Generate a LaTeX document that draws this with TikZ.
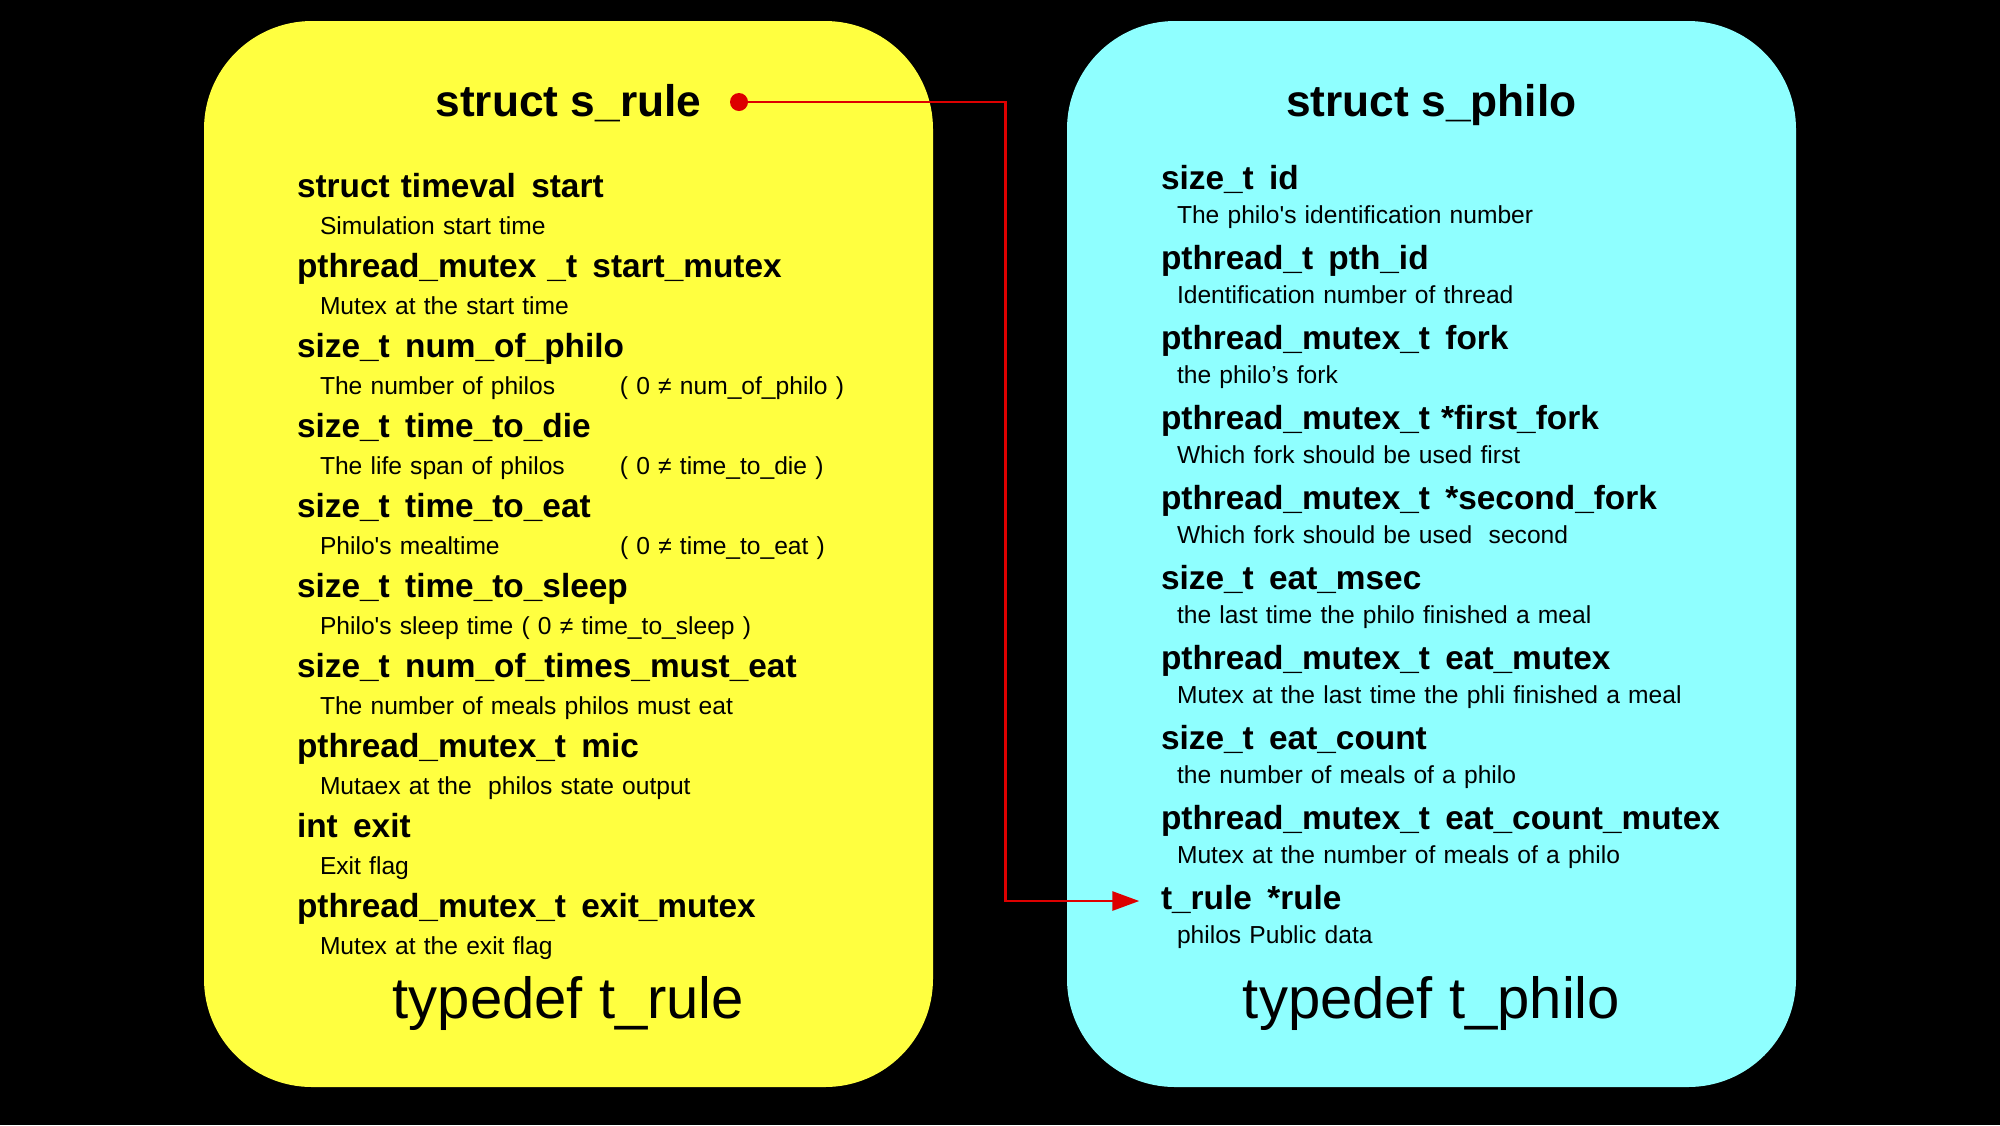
\documentclass[tikz,border=0pt]{standalone}
\usepackage{fontspec}
\setmainfont{Liberation Sans}
\usetikzlibrary{arrows.meta}

\definecolor{rulefill}{RGB}{255, 255, 64}
\definecolor{philofill}{RGB}{143, 255, 255}
\definecolor{linkred}{RGB}{221, 0, 0}

\newcommand{\gap}{\hspace{0.46em}}

\begin{document}
\begin{tikzpicture}[
node distance=0.8cm,
structbox/.style={rectangle, rounded corners=1.08cm, minimum width=7.29cm, minimum height=10.66cm, inner sep=0pt},
structname/.style={anchor=base, font=\fontsize{12.6}{15}\selectfont\bfseries},
typename/.style={anchor=base, font=\fontsize{16.5}{20}\selectfont},
field/.style={text width=6cm, align=left, inner sep=0pt, text height=0.25cm, text depth=0.08cm, font=\fontsize{9.5}{11}\selectfont\bfseries},
note/.style={text width=6cm, align=left, inner sep=0pt, text height=0.18cm, text depth=0.06cm, font=\fontsize{7}{8.5}\selectfont},
refdot/.style={circle, fill=linkred, inner sep=0pt, minimum size=0.18cm},
link/.style={-{Triangle[length=0.27cm, width=0.19cm]}, draw=linkred, line width=0.8pt}
]

% Background
\fill [black] (0,0) rectangle (20,-11.25);

% Struct boxes
\node (rulebox) [structbox, fill=rulefill] at (5.685,-5.54) {};
\node (philobox) [structbox, fill=philofill] at (14.315,-5.54) {};

\node (rulename) [structname] at ([yshift=-0.96cm]rulebox.north) {struct s\_rule};
\node (philoname) [structname] at ([yshift=-0.96cm]philobox.north) {struct s\_philo};
\node (ruletype) [typename] at ([yshift=0.69cm]rulebox.south) {typedef t\_rule};
\node (philotype) [typename] at ([yshift=0.69cm]philobox.south) {typedef t\_philo};

% s_rule fields
\node (lf1) [field] at (5.97,-1.89) {struct timeval\gap start};
\node (lf2) [field, below of=lf1] {pthread\_mutex \_t\gap start\_mutex};
\node (lf3) [field, below of=lf2] {size\_t\gap num\_of\_philo};
\node (lf4) [field, below of=lf3] {size\_t\gap time\_to\_die};
\node (lf5) [field, below of=lf4] {size\_t\gap time\_to\_eat};
\node (lf6) [field, below of=lf5] {size\_t\gap time\_to\_sleep};
\node (lf7) [field, below of=lf6] {size\_t\gap num\_of\_times\_must\_eat};
\node (lf8) [field, below of=lf7] {pthread\_mutex\_t\gap mic};
\node (lf9) [field, below of=lf8] {int\gap exit};
\node (lf10) [field, below of=lf9] {pthread\_mutex\_t\gap exit\_mutex};

\node (ln1) [note, below of=lf1, yshift=0.41cm, xshift=0.23cm] {Simulation start time};
\node (ln2) [note, below of=lf2, yshift=0.41cm, xshift=0.23cm] {Mutex at the start time};
\node (ln3) [note, below of=lf3, yshift=0.41cm, xshift=0.23cm] {\makebox[3cm][l]{The number of philos}( 0 ≠ num\_of\_philo )};
\node (ln4) [note, below of=lf4, yshift=0.41cm, xshift=0.23cm] {\makebox[3cm][l]{The life span of philos}( 0 ≠ time\_to\_die )};
\node (ln5) [note, below of=lf5, yshift=0.41cm, xshift=0.23cm] {\makebox[3cm][l]{Philo\textquotesingle s mealtime}( 0 ≠ time\_to\_eat )};
\node (ln6) [note, below of=lf6, yshift=0.41cm, xshift=0.23cm] {Philo\textquotesingle s sleep time ( 0 ≠ time\_to\_sleep )};
\node (ln7) [note, below of=lf7, yshift=0.41cm, xshift=0.23cm] {The number of meals philos must eat};
\node (ln8) [note, below of=lf8, yshift=0.41cm, xshift=0.23cm] {Mutaex at the\ \ philos state output};
\node (ln9) [note, below of=lf9, yshift=0.41cm, xshift=0.23cm] {Exit flag};
\node (ln10) [note, below of=lf10, yshift=0.41cm, xshift=0.23cm] {Mutex at the exit flag};

% s_philo fields
\node (rf1) [field] at (14.61,-1.81) {size\_t\gap id};
\node (rf2) [field, below of=rf1] {pthread\_t\gap pth\_id};
\node (rf3) [field, below of=rf2] {pthread\_mutex\_t\gap fork};
\node (rf4) [field, below of=rf3] {pthread\_mutex\_t *first\_fork};
\node (rf5) [field, below of=rf4] {pthread\_mutex\_t\gap *second\_fork};
\node (rf6) [field, below of=rf5] {size\_t\gap eat\_msec};
\node (rf7) [field, below of=rf6] {pthread\_mutex\_t\gap eat\_mutex};
\node (rf8) [field, below of=rf7] {size\_t\gap eat\_count};
\node (rf9) [field, below of=rf8] {pthread\_mutex\_t\gap eat\_count\_mutex};
\node (rf10) [field, below of=rf9] {t\_rule\gap *rule};

\node (rn1) [note, below of=rf1, yshift=0.44cm, xshift=0.16cm] {The philo\textquotesingle s identification number};
\node (rn2) [note, below of=rf2, yshift=0.44cm, xshift=0.16cm] {Identification number of thread};
\node (rn3) [note, below of=rf3, yshift=0.44cm, xshift=0.16cm] {the philo’s fork};
\node (rn4) [note, below of=rf4, yshift=0.44cm, xshift=0.16cm] {Which fork should be used first};
\node (rn5) [note, below of=rf5, yshift=0.44cm, xshift=0.16cm] {Which fork should be used\ \ second};
\node (rn6) [note, below of=rf6, yshift=0.44cm, xshift=0.16cm] {the last time the philo finished a meal};
\node (rn7) [note, below of=rf7, yshift=0.44cm, xshift=0.16cm] {Mutex at the last time the phli finished a meal};
\node (rn8) [note, below of=rf8, yshift=0.44cm, xshift=0.16cm] {the number of meals of a philo};
\node (rn9) [note, below of=rf9, yshift=0.44cm, xshift=0.16cm] {Mutex at the number of meals of a philo};
\node (rn10) [note, below of=rf10, yshift=0.44cm, xshift=0.16cm] {philos Public data};

% Pointer from s_rule to *rule
\node (ruledot) [refdot] at (7.39,-1.02) {};
\draw [link] (ruledot.center) -| ([xshift=-1.55cm]rf10.west) -- ([xshift=-0.21cm]rf10.west);

\end{tikzpicture}
\end{document}
